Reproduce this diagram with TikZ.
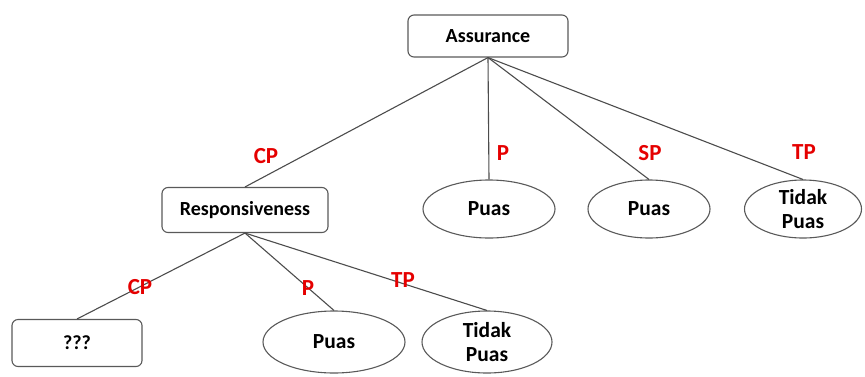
\documentclass[tikz,border=0pt]{standalone}
\usepackage{fontspec}
\setmainfont{Carlito}
\usetikzlibrary{shapes.geometric}
\begin{document}
\begin{tikzpicture}[x=1pt,y=-1pt,
  box/.style={draw=black!65, rounded corners=6pt, line width=1.1pt, inner sep=0pt,
    font=\bfseries\fontsize{20}{22}\selectfont},
  oval/.style={ellipse, draw=black!65, line width=1.1pt, inner sep=0pt, align=center,
    font=\bfseries\fontsize{21.5}{24}\selectfont},
  edge/.style={draw=black!70, line width=1.1pt},
  lbl/.style={text=red!90!black, inner sep=0pt, font=\bfseries\fontsize{23}{25}\selectfont}]
\useasboundingbox (0,0) rectangle (865,376);
\node[box, minimum width=160pt, minimum height=42pt] (A) at (488,36) {Assurance};
\node[box, minimum width=166pt, minimum height=45pt] (R) at (245,210) {Responsiveness};
\node[box, minimum width=130pt, minimum height=47pt] (Q) at (77,343) {???};
\node[oval, minimum width=132pt, minimum height=58pt] (P1) at (489,209) {Puas};
\node[oval, minimum width=122pt, minimum height=58pt] (P2) at (649,209) {Puas};
\node[oval, minimum width=117pt, minimum height=58pt] (T1) at (803,209) {Tidak\\Puas};
\node[oval, minimum width=142pt, minimum height=62pt] (P3) at (334,342) {Puas};
\node[oval, minimum width=130pt, minimum height=62pt] (T2) at (487,342) {Tidak\\Puas};
\draw[edge] (A.south) -- (R.north);
\draw[edge] (A.south) -- (P1.north);
\draw[edge] (A.south) -- (P2.north);
\draw[edge] (A.south) -- (T1.north);
\draw[edge] (R.south) -- (Q.north);
\draw[edge] (R.south) -- (P3.north);
\draw[edge] (R.south) -- (T2.north);
\node[lbl] (l1) at (266,156) {CP};
\node[lbl] (l2) at (503,153) {P};
\node[lbl] (l3) at (650,153) {SP};
\node[lbl] (l4) at (804,152) {TP};
\node[lbl] (l5) at (140,287) {CP};
\node[lbl] (l6) at (308,288) {P};
\node[lbl] (l7) at (403,280) {TP};
\end{tikzpicture}
\end{document}
